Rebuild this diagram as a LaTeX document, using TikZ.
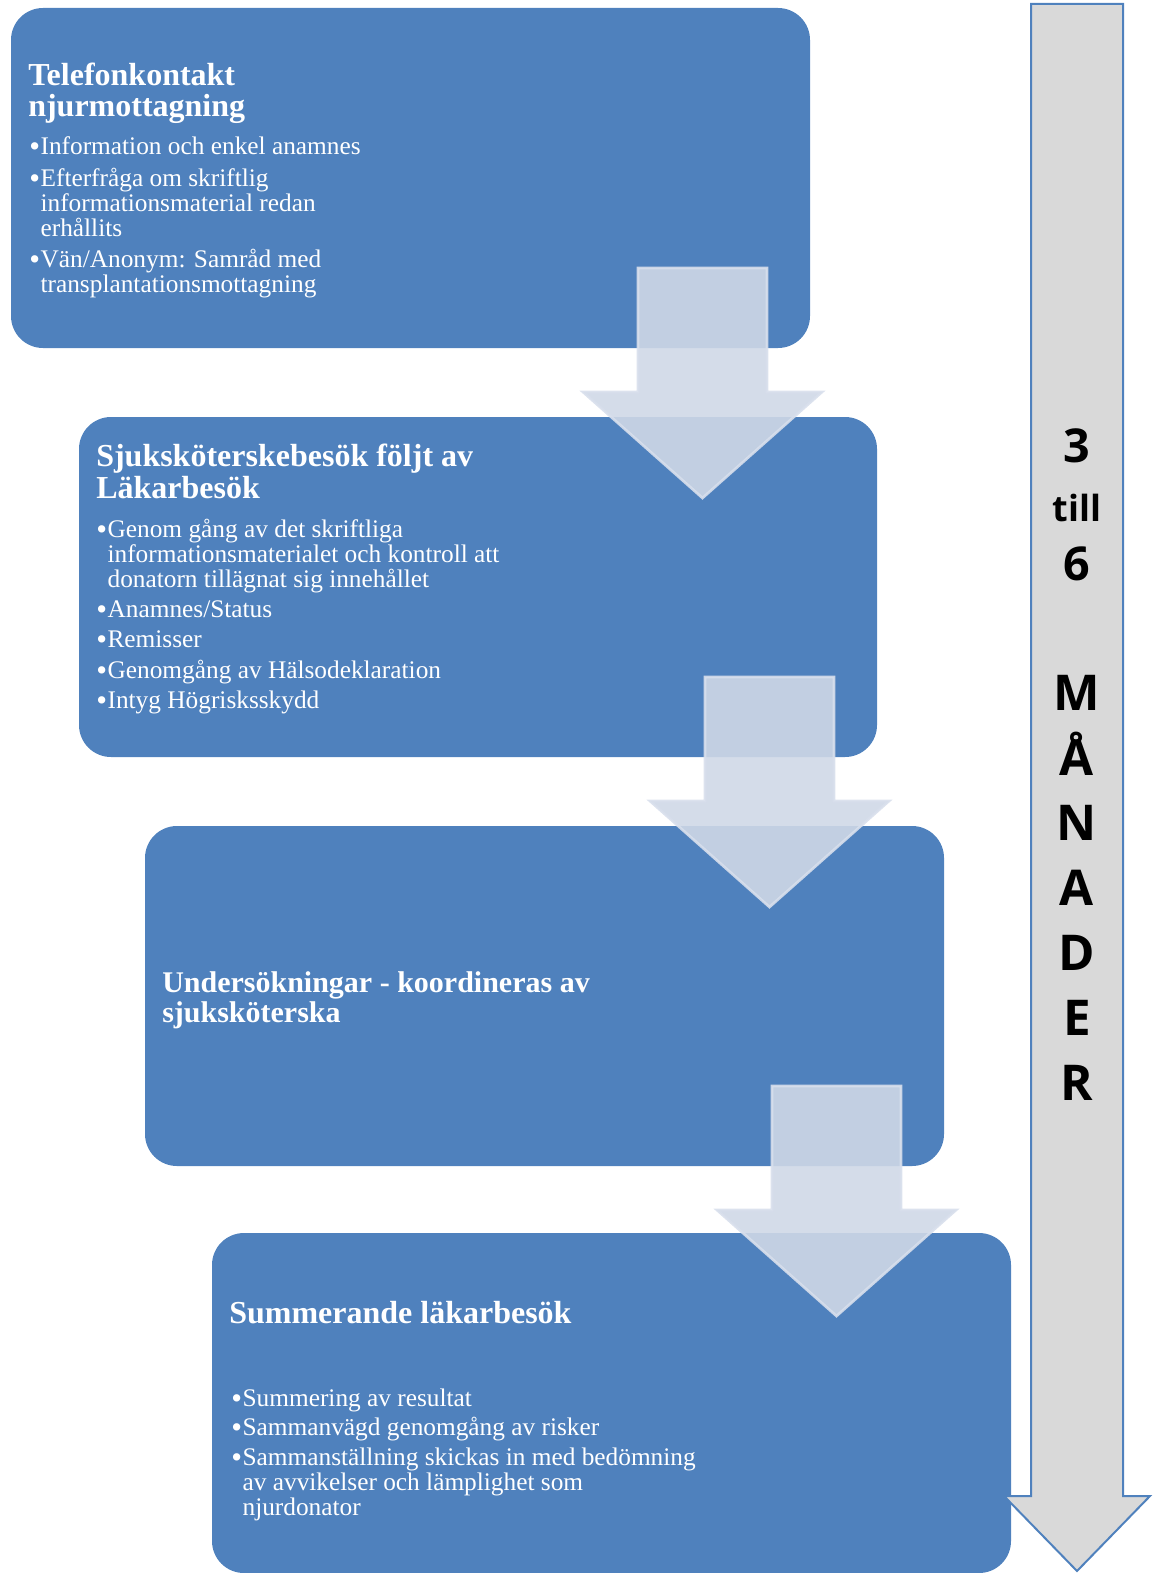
\documentclass[tikz,border=0pt]{standalone}
\usepackage{fontspec}
\setmainfont{Liberation Serif}
\newfontfamily\monthfont{Open Sans}
\definecolor{stageblue}{RGB}{79,129,189}
\definecolor{flowfill}{RGB}{207,216,231}
\definecolor{flowline}{RGB}{216,223,236}
\definecolor{spangray}{RGB}{217,217,217}
\newcommand{\bul}{\makebox[8.5pt][l]{\raisebox{-1.5pt}{\fontsize{23}{0}\selectfont\textbullet}}}

\begin{document}
\begin{tikzpicture}[x=0.75pt, y=-0.75pt,
    stage/.style={fill=stageblue, rounded corners=24pt},
    flow/.style={fill=flowfill, draw=flowline, line width=2pt, fill opacity=0.9, draw opacity=0.9},
    span/.style={fill=spangray, draw=stageblue, line width=1.5pt},
    head/.style={text=white, font=\fontsize{24}{23.5}\selectfont\bfseries, align=left, anchor=base west, inner sep=0pt},
    items/.style={text=white, font=\fontsize{19}{18.4}\selectfont, anchor=base west, inner sep=0pt},
    month/.style={font=\monthfont\bfseries\fontsize{37}{48.75}\selectfont, align=center, anchor=base, inner sep=0pt}]
    \useasboundingbox (0,0) rectangle (1155,1573);
    \fill[stage] (11,8) rectangle (810,348);
    \fill[stage] (79,417) rectangle (877,757);
    \fill[stage] (145,826) rectangle (944,1166);
    \fill[stage] (212,1233) rectangle (1011,1573);
    \node[head] (telHead) at (28,117) {Telefonkontakt\\njurmottagning};
    \node[items] (telList) at (29,155) {\begin{tabular}[t]{@{}l@{}l@{}}
        \bul & Information och enkel anamnes\\[4pt]
        \bul & Efterfråga om skriftlig\\
             & informationsmaterial redan\\
             & erhållits\\[4pt]
        \bul & Vän/Anonym: Samråd med\\
             & transplantationsmottagning
    \end{tabular}};
    \node[head] (sjukHead) at (96,498) {Sjuksköterskebesök följt av\\Läkarbesök};
    \node[items] (sjukList) at (96,537) {\begin{tabular}[t]{@{}l@{}l@{}}
        \bul & Genom gång av det skriftliga\\
             & informationsmaterialet och kontroll att\\
             & donatorn tillägnat sig innehållet\\[4pt]
        \bul & Anamnes/Status\\[4pt]
        \bul & Remisser\\[4pt]
        \bul & Genomgång av Hälsodeklaration\\[4pt]
        \bul & Intyg Högrisksskydd
    \end{tabular}};
    \node[head, font=\fontsize{22.5}{22.5}\selectfont\bfseries] (undHead) at (162,1022) {Undersökningar - koordineras av\\sjuksköterska};
    \node[head] (sumHead) at (229,1323) {Summerande läkarbesök};
    \node[items] (sumList) at (231,1406) {\begin{tabular}[t]{@{}l@{}l@{}}
        \bul & Summering av resultat\\[3pt]
        \bul & Sammanvägd genomgång av risker\\[4pt]
        \bul & Sammanställning skickas in med bedömning\\
             & av avvikelser och lämplighet som\\
             & njurdonator
    \end{tabular}};
    \draw[flow] (638,268) -- (767,268) -- (767,392) -- (822,392) -- (702.5,498) -- (583,392) -- (638,392) -- cycle;
    \draw[flow] (705,677) -- (834,677) -- (834,801) -- (889,801) -- (769.5,907) -- (650,801) -- (705,801) -- cycle;
    \draw[flow] (772,1086) -- (901,1086) -- (901,1210) -- (956,1210) -- (836.5,1316) -- (717,1210) -- (772,1210) -- cycle;
    \draw[span] (1031,4) -- (1123,4) -- (1123,1496) -- (1150,1496) -- (1077,1571) -- (1004,1496) -- (1031,1496) -- cycle;
    \node[month, font=\monthfont\bfseries\fontsize{35}{44}\selectfont] (monthNum) at (1077,580) {3\\{\fontsize{27}{44}\selectfont till}\\6};
    \node[month] (monthWord) at (1077,1100) {M\\Å\\N\\A\\D\\E\\R};
\end{tikzpicture}
\end{document}
